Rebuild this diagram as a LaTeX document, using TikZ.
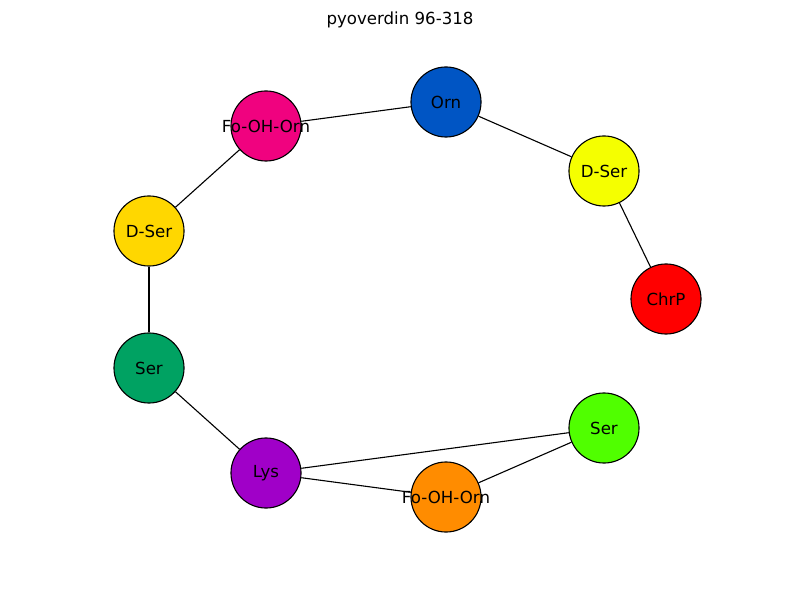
\documentclass[tikz,border=0pt]{standalone}
\usepackage{fontspec}
\setmainfont{DejaVu Sans}
\newcommand{\zw}[1]{\makebox[0pt]{#1}}
\begin{document}
\begin{tikzpicture}[x=0.01in,y=-0.01in,
  nd/.style={circle,draw=black,line width=0.8pt,minimum size=0.7in,inner sep=0pt,font=\fontsize{12}{14}\selectfont},
  ed/.style={draw=black,line width=0.8pt}]
\useasboundingbox (0,0) rectangle (800,600);
\definecolor{cPink}{HTML}{F0027F}
\definecolor{cBlue}{HTML}{0055C4}
\definecolor{cYel}{HTML}{F5FF00}
\definecolor{cRed}{HTML}{FF0000}
\definecolor{cGold}{HTML}{FFD700}
\definecolor{cGreen}{HTML}{00A262}
\definecolor{cPurp}{HTML}{A000C8}
\definecolor{cOrange}{HTML}{FF8C00}
\definecolor{cLime}{HTML}{50FF00}
\node[font=\fontsize{12}{14}\selectfont] (title) at (400,20) {pyoverdin 96-318};
\begin{scope}[every node/.style={nd}]
\node[fill=cPink] (fo1) at (266,126) {\zw{Fo-OH-Orn}};
\node[fill=cBlue] (orn) at (446,102) {\zw{Orn}};
\node[fill=cYel] (ds1) at (604,171) {\zw{D-Ser}};
\node[fill=cRed] (chr) at (666,299) {\zw{ChrP}};
\node[fill=cGold] (ds2) at (149,231) {\zw{D-Ser}};
\node[fill=cGreen] (ser1) at (149,368) {\zw{Ser}};
\node[fill=cPurp] (lys) at (266,473) {\zw{Lys}};
\node[fill=cOrange] (fo2) at (446,497) {\zw{Fo-OH-Orn}};
\node[fill=cLime] (ser2) at (604,428) {\zw{Ser}};
\end{scope}
\draw[ed] (fo1) -- (orn);
\draw[ed] (orn) -- (ds1);
\draw[ed] (ds1) -- (chr);
\draw[ed] (fo1) -- (ds2);
\draw[ed] (ds2) -- (ser1);
\draw[ed] (ser1) -- (lys);
\draw[ed] (lys) -- (ser2);
\draw[ed] (lys) -- (fo2);
\draw[ed] (fo2) -- (ser2);
\end{tikzpicture}
\end{document}
